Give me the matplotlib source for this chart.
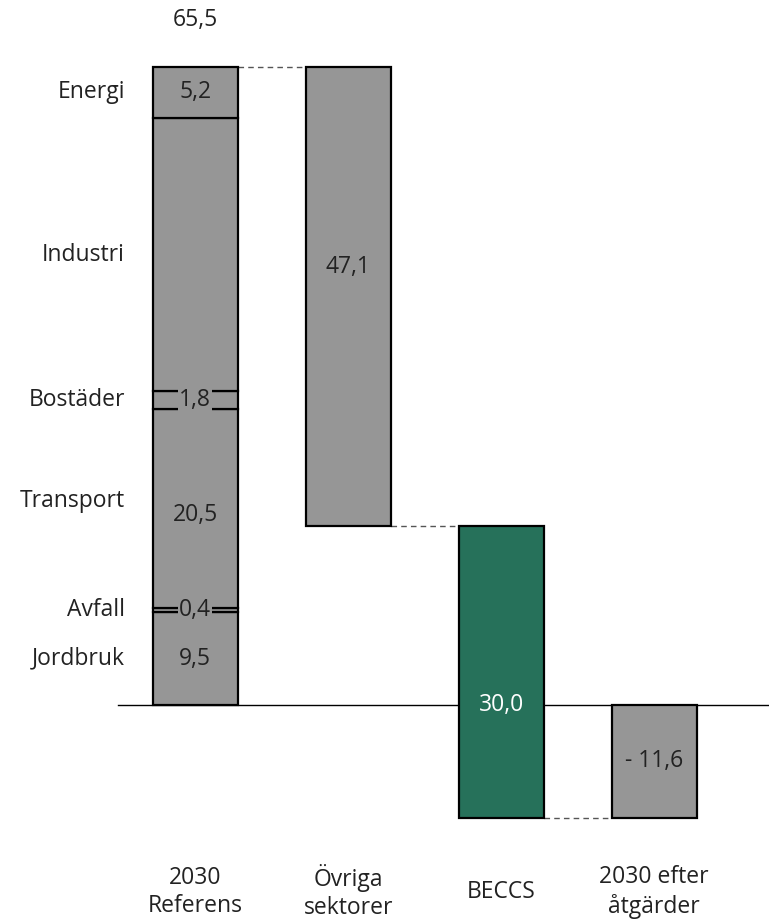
import numpy as np
import matplotlib
matplotlib.use("Agg")
from matplotlib import pyplot as plt

plt.rcParams['font.family'] = ['Open Sans', 'DejaVu Sans']

# reference 2030 split by sector (Mt CO2e)
sectors = ["Jordbruk", "Avfall", "Transport", "Bostäder", "Industri", "Energi"]
sector_values = [9.5, 0.4, 20.5, 1.8, 28.1, 5.2]
sector_labels = ["9,5", "0,4", "20,5", "1,8", "", "5,2"]

# waterfall steps
steps = ["2030\nReferens", "Övriga\nsektorer", "BECCS", "2030 efter\nåtgärder"]
step_changes = [-47.1, -30.0]
step_labels = ["47,1", "30,0"]
total_label = "65,5"
result_label = "- 11,6"

gray = "#969696"
green = "#26715a"
fs = 16.5

fig = plt.figure(figsize=(7.69, 9.21), dpi=100)
ax = fig.add_axes([0, 0, 1, 1])
ax.set_xlim(-1.275, 3.75)
ax.set_ylim(-22.2, 72.4)
ax.axis("off")

width = 0.556
half = width / 2

# zero line
ax.plot([-0.503, 3.75], [0, 0], color="black", lw=1.0, zorder=1)

# stacked reference bar
bottom = 0.0
for i, (name, val, lab) in enumerate(zip(sectors, sector_values, sector_labels)):
    ax.bar(0, val, width=width, bottom=bottom, color=gray, edgecolor="black",
           linewidth=1.6, zorder=2)
    mid = bottom + val / 2
    if lab:
        box = None
        if val < 3:
            box = dict(facecolor=gray, edgecolor="none", pad=1.0)
        ax.text(0, mid - 0.6 if name == "Transport" else mid, lab, ha="center", va="center",
                fontsize=fs, color="#222222", bbox=box, zorder=4)
    ax.text(-0.458, mid + 0.8 if name == "Transport" else mid, name, ha="right",
            va="center", fontsize=fs, color="#222222")
    bottom += val
total = bottom
ax.text(0, total + 4.8, total_label, ha="center", va="center", fontsize=fs, color="#222222")

# waterfall steps
level = total
colors = [gray, green]
for k, (chg, lab) in enumerate(zip(step_changes, step_labels)):
    x = k + 1
    ax.bar(x, chg, width=width, bottom=level, color=colors[k], edgecolor="black",
           linewidth=1.6, zorder=2)
    ax.plot([x - 1 + half, x - half], [level, level], color="#555555", lw=1.0,
            ls=(0, (4, 3)), zorder=1)
    new_level = level + chg
    if k == 0:
        ax.text(x, level + chg / 2 + 3.0, lab, ha="center", va="center",
                fontsize=fs, color="#222222")
    else:
        ax.text(x, 0.0, lab, ha="center", va="center", fontsize=fs,
                color="white", zorder=4)
    level = new_level

# result bar
ax.bar(3, level, width=width, bottom=0, color=gray, edgecolor="black",
       linewidth=1.6, zorder=2)
ax.plot([2 + half, 3 - half], [level, level], color="#555555", lw=1.0,
        ls=(0, (4, 3)), zorder=1)
ax.text(3, level / 2, result_label, ha="center", va="center", fontsize=fs, color="#222222")

for x, s in enumerate(steps):
    ax.text(x, -19.2, s, ha="center", va="center", fontsize=fs, color="#222222",
            linespacing=1.25)

fig.savefig("out.png", dpi=100)
